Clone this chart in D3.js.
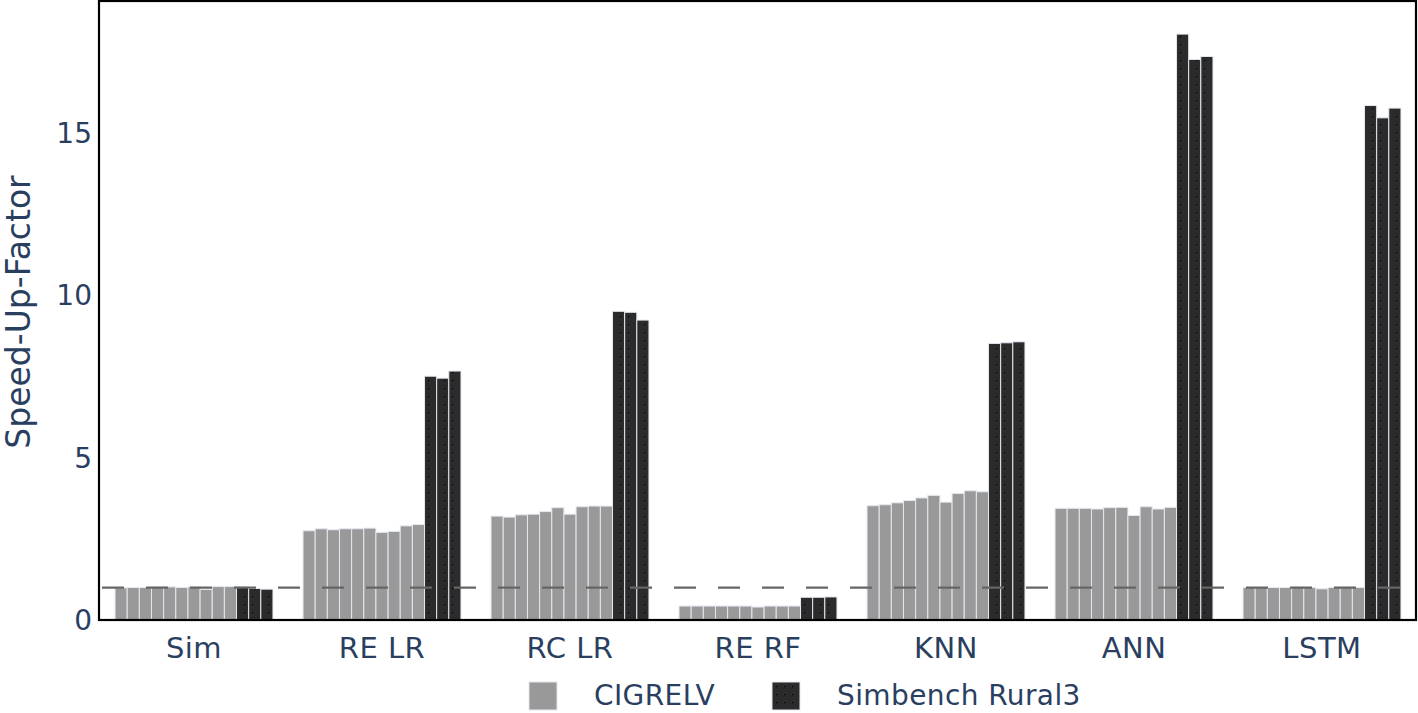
<!DOCTYPE html>
<html>
    <head>
        <meta charset="utf-8">
        <title>Speed-Up-Factor</title>
        <script type="text/javascript" src="https://cdn.jsdelivr.net/npm/d3@7"></script>
        <style>
            body { margin: 0; background: white; }
            text { font-family: "DejaVu Sans", Verdana, sans-serif; fill: #2a3f5f; }
        </style>
    </head>
    <body>
        <svg id="svg"></svg>

        <script>

            var WIDTH = 1418;
            var HEIGHT = 713;
            var LEFT = 100, RIGHT = 1416, TOP = 1, BOTTOM = 620;

            var categories = ['Sim', 'RE LR', 'RC LR', 'RE RF', 'KNN', 'ANN', 'LSTM'];
            var seriesNames = ['CIGRELV', 'Simbench Rural3'];
            var yTicks = [0, 5, 10, 15];
            var baseline = 1;

            // 10 runs per category for CIGRELV
            var cigre = [
                [0.99, 1.00, 1.00, 1.02, 1.02, 1.00, 1.02, 0.94, 1.03, 1.03],
                [2.75, 2.81, 2.78, 2.81, 2.81, 2.83, 2.70, 2.73, 2.90, 2.94],
                [3.20, 3.17, 3.24, 3.26, 3.34, 3.46, 3.26, 3.49, 3.51, 3.51],
                [0.43, 0.43, 0.43, 0.43, 0.43, 0.43, 0.40, 0.43, 0.43, 0.43],
                [3.52, 3.55, 3.61, 3.68, 3.76, 3.84, 3.63, 3.90, 3.98, 3.95],
                [3.44, 3.44, 3.44, 3.42, 3.46, 3.47, 3.22, 3.49, 3.42, 3.47],
                [1.00, 1.00, 1.00, 1.00, 1.01, 1.00, 0.96, 1.00, 1.01, 1.00]
            ];
            // 3 runs per category for Simbench Rural3
            var simbench = [
                [1.03, 0.97, 0.95],
                [7.51, 7.45, 7.67],
                [9.51, 9.48, 9.24],
                [0.70, 0.70, 0.71],
                [8.52, 8.54, 8.57],
                [18.05, 17.27, 17.36],
                [15.85, 15.47, 15.77]
            ];

            var colors = ['#999999', '#2b2b2b'];

            var svg = d3.select('#svg')
                        .attr('width', WIDTH)
                        .attr('height', HEIGHT);

            // dotted pattern for the dark bars
            var defs = svg.append('defs');
            var pat = defs.append('pattern')
                .attr('id', 'dots')
                .attr('patternUnits', 'userSpaceOnUse')
                .attr('width', 8).attr('height', 8);
            pat.append('rect').attr('width', 8).attr('height', 8).attr('fill', colors[1]);
            pat.append('rect').attr('x', 4).attr('y', 4).attr('width', 1.2).attr('height', 1.2).attr('fill', '#000');

            var x = d3.scaleBand()
                .domain(categories)
                .range([LEFT, RIGHT])
                .paddingInner(0.16)
                .paddingOuter(0.08);

            var xInner = d3.scaleBand()
                .domain(d3.range(13))
                .range([0, x.bandwidth()]);

            var y = d3.scaleLinear()
                .domain([0, 19.07])
                .range([BOTTOM, TOP]);

            // flatten into bar records
            var bars = [];
            categories.forEach(function(c, ci){
                cigre[ci].forEach(function(v, k){
                    bars.push({cat: c, idx: k, value: v, series: 0});
                });
                simbench[ci].forEach(function(v, k){
                    bars.push({cat: c, idx: 10 + k, value: v, series: 1});
                });
            });

            svg.selectAll('rect.bar')
               .data(bars)
               .enter()
               .append('rect')
               .attr('class', 'bar')
               .attr('x', function(d){ return x(d.cat) + xInner(d.idx); })
               .attr('y', function(d){ return y(d.value); })
               .attr('width', xInner.bandwidth())
               .attr('height', function(d){ return y(0) - y(d.value); })
               .attr('fill', function(d){ return d.series == 1 ? 'url(#dots)' : colors[0]; })
               .attr('stroke', '#e3e8f0')
               .attr('stroke-width', 1);

            // dashed reference line at 1
            svg.append('line')
               .attr('x1', LEFT).attr('x2', RIGHT)
               .attr('y1', y(baseline)).attr('y2', y(baseline))
               .attr('stroke', '#666666')
               .attr('stroke-width', 2.2)
               .attr('stroke-dasharray', '22,22')
               .attr('stroke-dashoffset', -2);

            // frame
            svg.append('rect')
               .attr('x', LEFT - 1).attr('y', TOP)
               .attr('width', RIGHT - LEFT + 1).attr('height', BOTTOM - TOP)
               .attr('fill', 'none')
               .attr('stroke', '#000')
               .attr('stroke-width', 2.2);

            // y tick labels
            svg.selectAll('text.ytick')
               .data(yTicks)
               .enter()
               .append('text')
               .attr('class', 'ytick')
               .attr('x', 92)
               .attr('y', function(d){ return y(d) + 10; })
               .attr('text-anchor', 'end')
               .attr('font-size', '28px')
               .text(function(d){ return d; });

            // x tick labels
            svg.selectAll('text.xtick')
               .data(categories)
               .enter()
               .append('text')
               .attr('class', 'xtick')
               .attr('x', function(d){ return x(d) + x.bandwidth() / 2; })
               .attr('y', 658)
               .attr('text-anchor', 'middle')
               .attr('font-size', '29px')
               .attr('letter-spacing', '0.5px')
               .text(function(d){ return d; });

            // y axis title
            svg.append('text')
               .attr('transform', 'translate(30,' + 312 + ') rotate(-90)')
               .attr('text-anchor', 'middle')
               .attr('font-size', '33px')
               .text('Speed-Up-Factor');

            // legend
            var legendX = [529, 772];
            var legend = svg.selectAll('g.legend')
               .data(seriesNames)
               .enter()
               .append('g')
               .attr('class', 'legend')
               .attr('transform', function(d, i){ return 'translate(' + legendX[i] + ',682)'; });

            legend.append('rect')
               .attr('width', 28).attr('height', 28)
               .attr('fill', function(d, i){ return i == 1 ? 'url(#dots)' : colors[0]; })
               .attr('stroke', '#e3e8f0')
               .attr('stroke-width', 1);

            legend.append('text')
               .attr('x', 65)
               .attr('y', 23)
               .attr('font-size', '28px')
               .attr('letter-spacing', '0.4px')
               .text(function(d){ return d; });

        </script>
    </body>
</html>
